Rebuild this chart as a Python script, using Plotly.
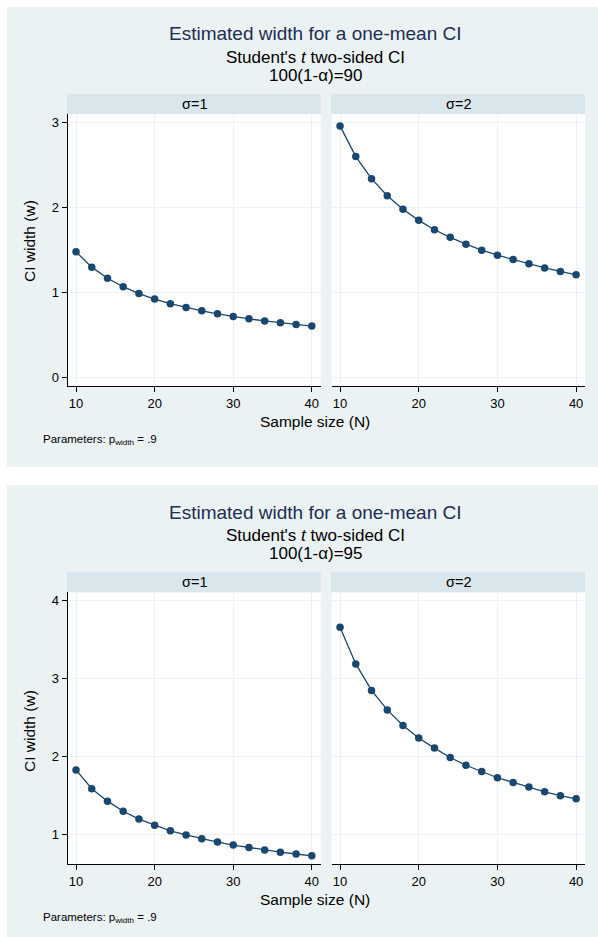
import plotly.graph_objects as go

# ---- data ----
sample_size = [10, 12, 14, 16, 18, 20, 22, 24, 26, 28, 30, 32, 34, 36, 38, 40]
w90_sigma1 = [1.48, 1.30, 1.17, 1.07, 0.99, 0.925, 0.871, 0.825, 0.786, 0.751, 0.720, 0.693, 0.668, 0.646, 0.626, 0.607]
w90_sigma2 = [2.96, 2.60, 2.34, 2.14, 1.98, 1.85, 1.74, 1.65, 1.57, 1.50, 1.44, 1.39, 1.34, 1.29, 1.25, 1.21]
w95_sigma1 = [1.83, 1.59, 1.43, 1.30, 1.20, 1.12, 1.05, 0.996, 0.947, 0.905, 0.867, 0.834, 0.804, 0.776, 0.752, 0.729]
w95_sigma2 = [3.66, 3.19, 2.85, 2.60, 2.40, 2.24, 2.11, 1.99, 1.89, 1.81, 1.73, 1.67, 1.61, 1.55, 1.50, 1.46]
x_ticks = [10, 20, 30, 40]
y_ticks_90 = [0, 1, 2, 3]
y_ticks_95 = [1, 2, 3, 4]
facet_labels = ["σ=1", "σ=2"]
titles = ["Estimated width for a one-mean CI", "Estimated width for a one-mean CI"]
subtitles = ["Student's <i>t</i> two-sided CI", "Student's <i>t</i> two-sided CI"]
levels = ["100(1-α)=90", "100(1-α)=95"]

W, H = 598, 937
FONT = "Liberation Sans, Arial, sans-serif"
BG = "#EAF2F3"
STRIP = "#D9E6EB"
GRID = "#EAF2F3"
NAVY = "#1A476F"
TITLE_C = "#1E2D53"

def px(x):
    return x / W

def py(y):
    return 1 - y / H

fig = go.Figure()

series = [(w90_sigma1, "x", "y"), (w90_sigma2, "x2", "y2"),
          (w95_sigma1, "x3", "y3"), (w95_sigma2, "x4", "y4")]
for vals, xa, ya in series:
    fig.add_trace(go.Scatter(
        x=sample_size, y=vals, xaxis=xa, yaxis=ya, mode="lines+markers",
        line=dict(color=NAVY, width=1.3),
        marker=dict(color=NAVY, size=7.5, line=dict(width=0)),
        showlegend=False, hoverinfo="skip"))

xl = [67.7, 320.7]
xr = [331.7, 585.0]
panels = [
    dict(top=114.0, bot=386.0, off=0, yr=[-0.097, 3.10], yt=y_ticks_90, ytc=241),
    dict(top=592.3, bot=864.0, off=478, yr=[0.624, 4.108], yt=y_ticks_95, ytc=731),
]

shapes = []
annotations = []
layout_axes = {}
axis_common = dict(showgrid=True, gridcolor=GRID, gridwidth=1, zeroline=False,
                   tickfont=dict(family=FONT, size=13, color="black"))
for i, p in enumerate(panels):
    off = p["off"]
    ydom = [py(p["bot"]), py(p["top"])]
    # panel backgrounds
    shapes.append(dict(type="rect", xref="paper", yref="paper", layer="below",
                       x0=px(7), x1=px(598), y0=py(467 + off if i == 0 else 937),
                       y1=py(7 + off), fillcolor=BG, line=dict(width=0)))
    for (x0, x1), lab in zip([xl, xr], facet_labels):
        shapes.append(dict(type="rect", xref="paper", yref="paper", layer="below",
                           x0=px(x0), x1=px(x1), y0=py(p["bot"]), y1=py(p["top"]),
                           fillcolor="white", line=dict(width=0)))
        shapes.append(dict(type="rect", xref="paper", yref="paper", layer="below",
                           x0=px(x0 - 0.7), x1=px(x1), y0=py(p["top"]),
                           y1=py(94 + off), fillcolor=STRIP, line=dict(width=0)))
        annotations.append(dict(text=lab, x=px((x0 + x1) / 2), y=py(104 + off),
                                xref="paper", yref="paper", showarrow=False,
                                xanchor="center", yanchor="middle",
                                font=dict(family=FONT, size=14.5, color="black")))
    # axes
    a = 2 * i + 1
    b = 2 * i + 2
    xk1 = "xaxis" if a == 1 else f"xaxis{a}"
    yk1 = "yaxis" if a == 1 else f"yaxis{a}"
    layout_axes[xk1] = dict(domain=[px(xl[0]), px(xl[1])], range=[8.94, 41.13],
                            tickvals=x_ticks, ticks="outside", ticklen=5,
                            tickcolor="black", showline=True, linecolor="black",
                            linewidth=1, anchor=f"y{a}" if a > 1 else "y",
                            **axis_common)
    layout_axes[yk1] = dict(domain=ydom, range=p["yr"], tickvals=p["yt"],
                            ticks="outside", ticklen=5, tickcolor="black",
                            showline=True, linecolor="black", linewidth=1,
                            anchor=f"x{a}" if a > 1 else "x", **axis_common)
    layout_axes[f"xaxis{b}"] = dict(domain=[px(xr[0]), px(xr[1])], range=[8.94, 41.13],
                                    tickvals=x_ticks, ticks="outside", ticklen=5,
                                    tickcolor="black", showline=True, linecolor="black",
                                    linewidth=1, anchor=f"y{b}", **axis_common)
    layout_axes[f"yaxis{b}"] = dict(domain=ydom, range=p["yr"], tickvals=p["yt"],
                                    showticklabels=False, ticks="", showline=False,
                                    anchor=f"x{b}", **axis_common)
    # titles
    annotations += [
        dict(text=titles[i], x=px(315), y=py(34 + off), xref="paper", yref="paper",
             showarrow=False, xanchor="center", yanchor="middle",
             font=dict(family=FONT, size=19, color=TITLE_C)),
        dict(text=subtitles[i], x=px(315), y=py(57 + off), xref="paper", yref="paper",
             showarrow=False, xanchor="center", yanchor="middle",
             font=dict(family=FONT, size=17, color="black")),
        dict(text=levels[i], x=px(315), y=py(75 + off), xref="paper", yref="paper",
             showarrow=False, xanchor="center", yanchor="middle",
             font=dict(family=FONT, size=17, color="black")),
        dict(text="Sample size (N)", x=px(315), y=py(421 + off), xref="paper",
             yref="paper", showarrow=False, xanchor="center", yanchor="middle",
             font=dict(family=FONT, size=15.5, color="black")),
        dict(text="CI width (w)", x=px(29), y=py(p["ytc"]),
             xref="paper", yref="paper", showarrow=False, textangle=-90,
             xanchor="center", yanchor="middle",
             font=dict(family=FONT, size=15.5, color="black")),
        dict(text="Parameters: p<sub>width</sub> = .9", x=px(41), y=py(440 + off),
             xref="paper", yref="paper", showarrow=False, xanchor="left",
             yanchor="middle", font=dict(family=FONT, size=11.5, color="black")),
    ]

fig.update_layout(
    width=W, height=H, margin=dict(l=0, r=0, t=0, b=0),
    paper_bgcolor="white", plot_bgcolor="white",
    shapes=shapes, annotations=annotations, **layout_axes)

fig.write_html("out.html")
